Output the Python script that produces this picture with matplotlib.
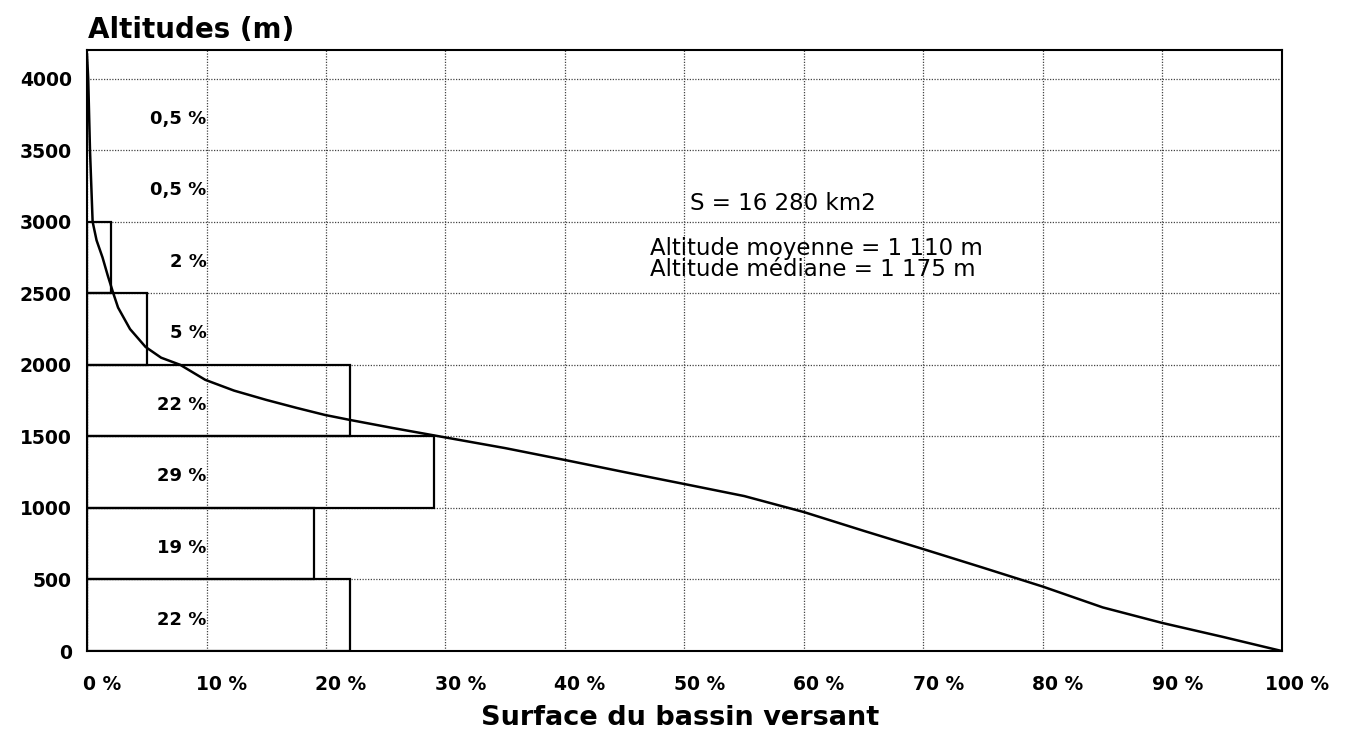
import matplotlib
matplotlib.use("Agg")
import matplotlib.pyplot as plt
import matplotlib.transforms as mtransforms

plt.rcParams['font.family'] = ['DejaVu Sans']

# tranches d'altitude (m) et part de la surface (%)
tranche_bas = [0, 500, 1000, 1500, 2000, 2500, 3000, 3500]
tranche_pct = [22, 19, 29, 22, 5, 2, 0.5, 0.5]
tranche_lbl = ['22 %', '19 %', '29 %', '22 %', '5 %', '2 %', '0,5 %', '0,5 %']
n_barres = 6  # les tranches à 0,5 % ne sont pas tracées

# courbe hypsométrique : surface cumulée (%) au-dessus de l'altitude (m)
courbe_pct = [0, 0.1, 0.25, 0.47, 0.8, 1.3, 1.75, 2.2, 2.6, 3.6, 4.9, 6.2, 7.8,
              9.9, 12.3, 15, 17.5, 19.9, 22, 25.5, 29.5,
              35, 40, 45, 50, 55, 60, 65, 70, 75, 80, 85, 90, 95, 100]
courbe_alt = [4170, 4000, 3500, 3000, 2870, 2750, 2620, 2500, 2400, 2250, 2125, 2050, 2000,
              1895, 1820, 1755, 1700, 1650, 1615, 1560, 1500,
              1418, 1335, 1250, 1167, 1083, 971, 840, 712, 582, 450, 305, 196, 100, 0]

xticks = list(range(0, 101, 10))
xticklabels = ['%d %%' % v for v in xticks]
yticks = list(range(0, 4001, 500))

fig = plt.figure(figsize=(13.51, 7.33), dpi=100)
ax = fig.add_axes([0.0644, 0.1118, 0.8845, 0.82])

# histogramme des tranches
ax.barh(tranche_bas[:n_barres], tranche_pct[:n_barres], height=500, left=0,
        align='edge', fill=False, edgecolor='black', linewidth=1.6, zorder=3)
for b, lbl in zip(tranche_bas, tranche_lbl):
    ax.text(10, b + 250 - 30, lbl, ha='right', va='center',
            fontsize=13, fontweight='bold')

ax.plot(courbe_pct, courbe_alt, color='black', linewidth=1.8, zorder=4)

ax.set_xlim(0, 100)
ax.set_ylim(0, 4200)
ax.set_xticks(xticks, xticklabels)
ax.set_yticks(yticks)
ax.tick_params(length=0, labelsize=13.5)
ax.tick_params(axis='y', pad=11)
ax.tick_params(axis='x', pad=17)
for lab in ax.get_xticklabels() + ax.get_yticklabels():
    lab.set_fontweight('bold')
# étiquettes de l'axe x décalées vers la droite
shift = mtransforms.ScaledTranslation(15 / 100, 0, fig.dpi_scale_trans)
for lab in ax.get_xticklabels():
    lab.set_transform(lab.get_transform() + shift)

ax.grid(True, linestyle=(0, (1, 1.2)), linewidth=0.9, color='#444444')
for s in ax.spines.values():
    s.set_linewidth(1.5)

ax.text(50.5, 3130, 'S = 16 280 km2', fontsize=16.5, va='center', ha='left')
ax.text(47.1, 2740, 'Altitude moyenne = 1 110 m\nAltitude médiane = 1 175 m',
        fontsize=16.5, va='center', ha='left', linespacing=0.9)

fig.text(88 / 1351, 1 - 30 / 733, 'Altitudes (m)', fontsize=20, fontweight='bold',
         ha='left', va='center')
fig.text(680 / 1351, 1 - 718 / 733, 'Surface du bassin versant', fontsize=19.5,
         fontweight='bold', ha='center', va='center')

fig.savefig('out.png', dpi=100)
